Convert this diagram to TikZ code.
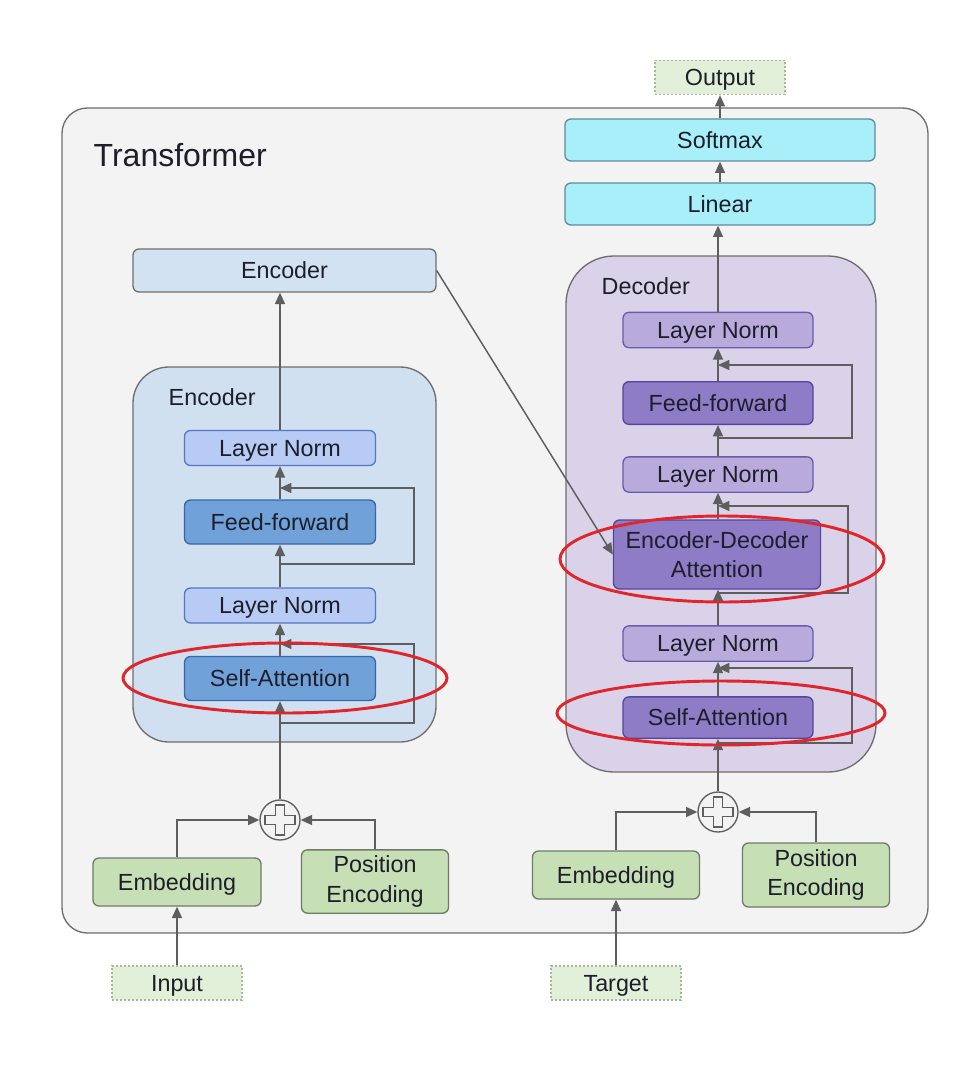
\documentclass[tikz,border=0pt]{standalone}
\usepackage{fontspec}
\setmainfont{Liberation Sans}
\usetikzlibrary{arrows.meta}

\definecolor{txt}{HTML}{1E1E2A}
\definecolor{grayline}{HTML}{6E6E6E}
\definecolor{arrowgray}{HTML}{5E5E5E}
\definecolor{bgfill}{HTML}{F3F3F3}
\definecolor{encgroup}{HTML}{D0E0F1}
\definecolor{encoutfill}{HTML}{D3E2F2}
\definecolor{enclnfill}{HTML}{B7CBF4}
\definecolor{enclnline}{HTML}{5675C4}
\definecolor{encblkfill}{HTML}{70A2D9}
\definecolor{encblkline}{HTML}{3A66A8}
\definecolor{decgroup}{HTML}{D9D2E9}
\definecolor{declnfill}{HTML}{B8ABDC}
\definecolor{declnline}{HTML}{6A5AAE}
\definecolor{decblkfill}{HTML}{8E7CC6}
\definecolor{decblkline}{HTML}{56459C}
\definecolor{embfill}{HTML}{C6DFB4}
\definecolor{embline}{HTML}{707A68}
\definecolor{iofill}{HTML}{E2EFD9}
\definecolor{ioline}{HTML}{A3BC94}
\definecolor{headfill}{HTML}{A8EFF9}
\definecolor{headline}{HTML}{5E8E98}
\definecolor{ringred}{HTML}{E0262B}

\begin{document}
\begin{tikzpicture}[x=0.75pt,y=-0.75pt,
    every node/.style={font=\fontsize{17.5}{22}\selectfont, text=txt},
    group/.style={draw=grayline, line width=1pt, rounded corners=27pt, inner sep=0pt},
    block/.style={draw, line width=1pt, rounded corners=4.5pt, minimum width=142.5pt, inner sep=0pt, align=center},
    oneline/.style={text height=12.5pt, text depth=0pt},
    encln/.style={block, oneline, fill=enclnfill, draw=enclnline, minimum width=143.25pt, minimum height=26.25pt},
    encblk/.style={block, oneline, fill=encblkfill, draw=encblkline, minimum width=143.25pt, minimum height=33pt},
    decln/.style={block, oneline, fill=declnfill, draw=declnline, minimum height=26.5pt},
    decblk/.style={block, fill=decblkfill, draw=decblkline, minimum height=32pt},
    embbox/.style={block, oneline, fill=embfill, draw=embline, minimum width=126pt, minimum height=36pt},
    posbox/.style={block, fill=embfill, draw=embline, minimum width=110.25pt, minimum height=47.5pt},
    iobox/.style={block, oneline, rounded corners=0pt, fill=iofill, draw=ioline, dash pattern=on 1.5pt off 1.5pt, minimum width=97.5pt, minimum height=25.5pt},
    headbox/.style={block, oneline, fill=headfill, draw=headline, minimum width=232.5pt, minimum height=31.5pt},
    plus/.style={circle, draw=arrowgray, line width=1pt, fill=bgfill, minimum size=30pt, inner sep=0pt},
    arrow/.style={draw=arrowgray, line width=1.1pt, -{Triangle[length=8.5pt,width=7.5pt]}},
    ring/.style={draw=ringred, line width=2.2pt}
  ]
    \useasboundingbox (0,0) rectangle (962,1066);

    % frames
    \node[group, fill=bgfill, rounded corners=19pt, minimum width=649.5pt, minimum height=618.75pt] (transformer) at (495,520.5) {};
    \node[anchor=west, font=\fontsize{24}{28}\selectfont] (title) at (89,155) {Transformer};
    \node[group, fill=encgroup, minimum width=227.25pt, minimum height=281.25pt] (enc) at (284.5,554.5) {};
    \node[anchor=west] (enclabel) at (164,397) {Encoder};
    \node[group, fill=decgroup, rounded corners=36pt, minimum width=232.5pt, minimum height=387pt] (dec) at (721,514) {};
    \node[anchor=west] (declabel) at (597,286) {Decoder};

    % encoder side
    \node[block, oneline, fill=encoutfill, draw=grayline, minimum width=227.25pt, minimum height=32.25pt] (encout) at (284.5,270.5) {Encoder};
    \node[encln] (ln2) at (280,448) {Layer Norm};
    \node[encblk] (ff) at (280,522) {Feed-forward};
    \node[encln] (ln1) at (280,605.5) {Layer Norm};
    \node[encblk] (sa) at (280,678.5) {Self-Attention};
    \node[plus] (eplus) at (280,820) {};
    \node[embbox] (eemb) at (177,882) {Embedding};
    \node[posbox] (epos) at (375,881.5) {Position\\Encoding};
    \node[iobox] (input) at (177,983) {Input};

    % decoder side
    \node[iobox] (output) at (720,77.5) {Output};
    \node[headbox] (softmax) at (720,140) {Softmax};
    \node[headbox] (linear) at (720,204) {Linear};
    \node[decln] (dln3) at (718,330) {Layer Norm};
    \node[decblk, oneline] (dff) at (718,403) {Feed-forward};
    \node[decln] (dln2) at (718,474.5) {Layer Norm};
    \node[decblk, minimum width=155.25pt, minimum height=51.75pt] (eda) at (717,554.5) {Encoder-Decoder\\Attention};
    \node[decln] (dln1) at (718,643.5) {Layer Norm};
    \node[decblk, oneline, minimum height=31pt] (dsa) at (718,717.5) {Self-Attention};
    \node[plus] (dplus) at (718,812) {};
    \node[embbox, minimum width=125.25pt] (demb) at (616,875) {Embedding};
    \node[posbox, minimum height=48pt] (dpos) at (816,875) {Position\\Encoding};
    \node[iobox] (target) at (616,983) {Target};

    \foreach \p in {eplus,dplus}
      \draw[arrowgray, line width=1pt, shift={(\p.center)}] (-4.5,-15) -- (4.5,-15) -- (4.5,-4.5) -- (15,-4.5) -- (15,4.5) -- (4.5,4.5)
        -- (4.5,15) -- (-4.5,15) -- (-4.5,4.5) -- (-15,4.5) -- (-15,-4.5) -- (-4.5,-4.5) -- cycle;

    % skip connections
    \coordinate (sain) at (280,723);
    \coordinate (saout) at (280,644);
    \coordinate (ffin) at (280,564);
    \coordinate (ffout) at (280,488);
    \coordinate (dsain) at (718,743);
    \coordinate (dsaout) at (718,668);
    \coordinate (edain) at (718,593);
    \coordinate (edaout) at (718,506);
    \coordinate (dffin) at (718,438);
    \coordinate (dffout) at (718,365);

    \draw[arrow] (input) -- (eemb);
    \draw[arrow] (eemb.north) |- (eplus.west);
    \draw[arrow] (epos.north) |- (eplus.east);
    \draw[arrow] (eplus) -- (sa);
    \draw[arrow] (sa) -- (ln1);
    \draw[arrow] (ln1) -- (ff);
    \draw[arrow] (ff) -- (ln2);
    \draw[arrow] (ln2.north) -- (ln2.north |- encout.south);
    \draw[arrow] (sain) -- ++(134,0) |- (saout);
    \draw[arrow] (ffin) -- ++(134,0) |- (ffout);
    \draw[arrow] (encout.east) -- (eda.west);

    \draw[arrow] (target) -- (demb);
    \draw[arrow] (demb.north) |- (dplus.west);
    \draw[arrow] (dpos.north) |- (dplus.east);
    \draw[arrow] (dplus) -- (dsa);
    \draw[arrow] (dsa) -- (dln1);
    \draw[arrow] (dln1) -- (dln1 |- eda.south);
    \draw[arrow] (dln1 |- eda.north) -- (dln2);
    \draw[arrow] (dln2) -- (dff);
    \draw[arrow] (dff) -- (dln3);
    \draw[arrow] (dln3.north) -- (dln3.north |- linear.south);
    \draw[arrow] (linear) -- (softmax);
    \draw[arrow] (softmax) -- (output);
    \draw[arrow] (dsain) -- ++(134,0) |- (dsaout);
    \draw[arrow] (edain) -- ++(130,0) |- (edaout);
    \draw[arrow] (dffin) -- ++(134,0) |- (dffout);

    % highlights
    \draw[ring] (285,678) ellipse [x radius=121.5pt, y radius=26.25pt];
    \draw[ring] (722,559) ellipse [x radius=121.5pt, y radius=32.25pt];
    \draw[ring] (721,713) ellipse [x radius=123pt, y radius=24pt];
  \end{tikzpicture}
\end{document}
